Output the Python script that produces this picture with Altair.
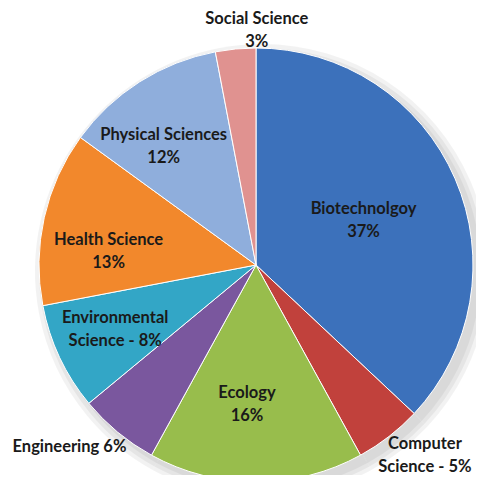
import altair as alt
import pandas as pd
import math

categories = ["Biotechnolgoy", "Computer Science", "Ecology", "Engineering",
              "Environmental Science", "Health Science", "Physical Sciences", "Social Science"]
values = [37, 5, 16, 6, 8, 13, 12, 3]
labels = ["Biotechnolgoy\n37%", "Computer\nScience - 5%", "Ecology\n16%", "Engineering  6%",
          "Environmental\nScience - 8%", "Health Science\n13%", "Physical Sciences\n12%",
          "Social Science\n3%"]
colors = ["#3C71BB", "#C1413C", "#98BD4C", "#7A579E", "#33A6C6", "#F2882C", "#8FAEDC", "#E09290"]
# label layout (angle nudge in degrees, radius in px)
label_nudge = [0.7, -3.7, 3.7, 4.3, 0.5, -7.4, -5.6, 5.6]
label_radius = [116.5, 254.9, 140, 269, 155, 148, 150, 235]

df = pd.DataFrame({
    "category": categories,
    "value": values,
    "label": labels,
    "idx": list(range(len(categories))),
    "nudge": label_nudge,
    "r": label_radius,
})

cx, cy, R = 248, 257, 217
base = alt.Chart(df)

shadows = [
    base.mark_arc(outerRadius=R + k, color="#000000", opacity=0.05).encode(
        theta=alt.Theta("value:Q", stack=True),
        order=alt.Order("idx:Q"),
        x=alt.value(cx + 6),
        y=alt.value(cy + 6),
    )
    for k in (2, 6, 10)
]

pie = base.mark_arc(outerRadius=R, stroke="white", strokeWidth=1).encode(
    theta=alt.Theta("value:Q", stack=True),
    color=alt.Color("category:N", scale=alt.Scale(domain=categories, range=colors), legend=None),
    order=alt.Order("idx:Q"),
    x=alt.value(cx),
    y=alt.value(cy),
)

text = base.transform_window(
    cum="sum(value)", sort=[{"field": "idx"}], frame=[None, 0]
).transform_calculate(
    ang="(datum.cum - datum.value / 2) * 3.6 + datum.nudge"
).mark_text(
    font="Lato", fontSize=16.5, fontWeight="bold", color="#1a1a1a",
    lineBreak="\n", lineHeight=23, align="center", baseline="middle", dy=-11.5
).encode(
    theta=alt.Theta("ang:Q", stack=None, scale=alt.Scale(domain=[0, 360], range=[0, 2 * math.pi])),
    radius=alt.Radius("r:Q", scale=None),
    text="label:N",
    x=alt.value(cx),
    y=alt.value(cy),
)

chart = alt.layer(*shadows, pie, text).resolve_scale(theta="independent").properties(
    width=468, height=467, padding=0, autosize=alt.AutoSizeParams(type="none")
).configure_view(stroke=None)

chart.save("out.html", embed_options={"renderer": "svg", "actions": False})
